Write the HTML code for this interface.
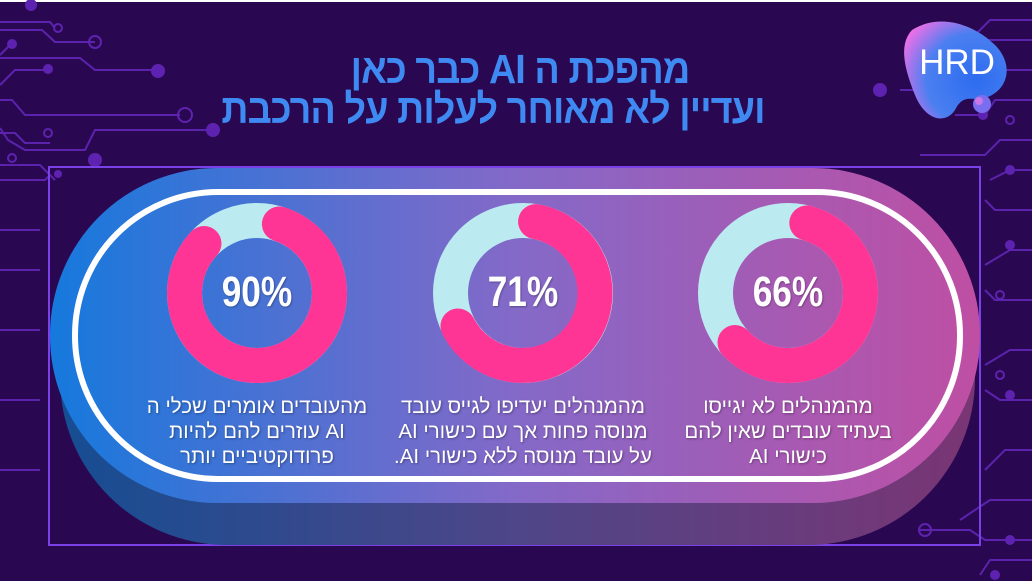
<!DOCTYPE html>
<html><head><meta charset="utf-8"><style>
html,body{margin:0;padding:0}
body{width:1032px;height:581px;overflow:hidden;background:#2a0851;position:relative;font-family:"Liberation Sans","Noto Sans CJK SC",sans-serif}
.t{position:absolute;width:700px;text-align:center;color:#3f8af2;font-weight:bold;font-size:41px;line-height:40px;direction:rtl;letter-spacing:-1px;transform:scaleX(0.92)}
.cap{position:absolute;width:300px;text-align:center;color:#fff;font-size:20.5px;line-height:25px;direction:rtl;white-space:nowrap;text-shadow:1px 1px 2px rgba(0,0,0,.35)}
.pct{position:absolute;width:160px;text-align:center;color:#fff;font-weight:bold;font-size:43px;line-height:44px;text-shadow:1px 1px 2px rgba(0,0,0,.3);transform:scaleX(0.82)}
</style></head><body>
<svg width="1032" height="581" style="position:absolute;left:0;top:0">
<defs>
<linearGradient id="g" x1="0" x2="1"><stop offset="0" stop-color="#1679dd"/><stop offset=".5" stop-color="#8469c8"/><stop offset="1" stop-color="#bf4fa3"/></linearGradient>
<linearGradient id="gd" x1="0" x2="1"><stop offset="0" stop-color="#164d92"/><stop offset=".5" stop-color="#4e4688"/><stop offset="1" stop-color="#7a3574"/></linearGradient>
<radialGradient id="blob" cx=".7" cy=".6" r=".8"><stop offset="0" stop-color="#2d6cf0"/><stop offset=".6" stop-color="#4a7ff0"/><stop offset="1" stop-color="#ee6fe8"/></radialGradient>
</defs>
<rect x="0" y="0" width="1032" height="2" fill="#fff"/>
<g stroke="#5b23ad" stroke-width="2" fill="none">
<polyline points="0,22 50,22 55,28"/><polyline points="0,30 42,30 55,42 95,42"/>
<polyline points="0,55 10,45"/><polyline points="0,58 80,58 95,70 158,70"/>
<polyline points="0,85 15,70 50,70"/><polyline points="0,100 12,100 25,115 180,115"/>
<polyline points="0,133 15,133 25,143 50,143"/><polyline points="0,128 8,140 25,150 85,150 95,130 210,130"/>
<polyline points="0,165 40,165 55,180"/><polyline points="0,180 45,180 50,175"/>
<polyline points="0,230 40,230"/><polyline points="0,270 40,270"/><polyline points="0,330 40,330"/><polyline points="0,400 40,400"/><polyline points="0,470 40,470"/>
<polyline points="1032,20 990,20 975,35"/><polyline points="1032,40 980,40 960,55"/>
<polyline points="1032,70 1000,70 980,90 900,90"/><polyline points="1032,100 995,100 985,115 955,115"/>
<polyline points="1032,140 1000,140 985,155 920,155"/><polyline points="1032,170 1010,170 990,180"/>
<polyline points="1032,210 995,210 985,200"/><polyline points="1032,250 1010,250 985,265"/><polyline points="1032,300 995,300 985,290"/>
<polyline points="1032,350 1010,350 985,365"/><polyline points="1032,400 1000,400 985,390"/><polyline points="1032,450 1005,450 985,470"/>
<polyline points="1032,500 990,500 960,520"/><polyline points="1032,540 985,540 970,530 920,530"/>
<polyline points="1032,560 990,560 980,575"/>
</g>
<g fill="#5e22b0"><circle cx="31" cy="5" r="6"/><circle cx="12" cy="44" r="5"/><circle cx="48" cy="69" r="5"/><circle cx="158" cy="71" r="7"/><circle cx="213" cy="130" r="7"/><circle cx="95" cy="160" r="7"/><circle cx="58" cy="174" r="4"/>
<circle cx="963" cy="60" r="6"/><circle cx="880" cy="90" r="7"/><circle cx="983" cy="115" r="5"/><circle cx="1010" cy="170" r="5"/><circle cx="1010" cy="245" r="5"/><circle cx="1010" cy="395" r="5"/><circle cx="1010" cy="540" r="5"/><circle cx="975" cy="355" r="5"/><circle cx="995" cy="575" r="5"/></g>
<g stroke="#5e22b0" stroke-width="2" fill="none"><circle cx="58" cy="28" r="4"/><circle cx="95" cy="42" r="6"/><circle cx="185" cy="115" r="7"/><circle cx="48" cy="133" r="4"/><circle cx="12" cy="158" r="4"/><circle cx="925" cy="40" r="6"/><circle cx="1010" cy="120" r="4"/><circle cx="1000" cy="375" r="4"/><circle cx="925" cy="530" r="6"/><circle cx="1000" cy="295" r="4"/></g>
<rect x="49" y="167" width="931" height="378" fill="none" stroke="#7a42e6" stroke-width="2"/>
<rect x="60" y="210" width="915" height="335" rx="167" fill="url(#gd)"/>
<rect x="50" y="168" width="930" height="335" rx="167" fill="url(#g)"/>
<rect x="75" y="192" width="885" height="287" rx="143" fill="none" stroke="#fff" stroke-width="6"/>
<g fill="none" stroke-width="35">
<circle cx="257" cy="293" r="72.5" stroke="#bbebf0"/>
<circle cx="523" cy="293" r="72.5" stroke="#bbebf0"/>
<circle cx="788" cy="293" r="72.5" stroke="#bbebf0"/>
</g>
<g fill="none" stroke-width="35" stroke="#ff3596" stroke-linecap="round">
<path d="M279.4,224 A72.5,72.5 0 1 1 204,243.5"/>
<path d="M535.6,221.6 A72.5,72.5 0 1 1 458,326"/>
<path d="M806.8,223 A72.5,72.5 0 1 1 735,342.5"/>
</g>
<path d="M912,30 C940,12 975,25 995,45 C1012,62 1010,85 992,95 C975,105 965,90 955,110 C945,125 925,120 915,95 C905,70 898,45 912,30 Z" fill="url(#blob)"/>
<circle cx="982" cy="104" r="9" fill="#7a6ef0"/><circle cx="979" cy="101" r="4" fill="#e87ae6" opacity=".7"/>
</svg>
<div style="position:absolute;left:912px;top:44px;width:90px;text-align:center;color:#fff;font-size:35px;line-height:38px">HRD</div>
<div class="t" style="left:170px;top:49px">מהפכת ה AI כבר כאן</div>
<div class="t" style="left:143px;top:89px">ועדיין לא מאוחר לעלות על הרכבת</div>
<div class="pct" style="left:177px;top:270px">90%</div>
<div class="pct" style="left:443px;top:270px">71%</div>
<div class="pct" style="left:708px;top:270px">66%</div>
<div class="cap" style="left:107px;top:394px">מהעובדים אומרים שכלי ה<br>AI עוזרים להם להיות<br>פרודוקטיביים יותר</div>
<div class="cap" style="left:373px;top:394px">מהמנהלים יעדיפו לגייס עובד<br>מנוסה פחות אך עם כישורי AI<br>על עובד מנוסה ללא כישורי AI.</div>
<div class="cap" style="left:638px;top:394px">מהמנהלים לא יגייסו<br>בעתיד עובדים שאין להם<br>כישורי AI</div>
</body></html>
